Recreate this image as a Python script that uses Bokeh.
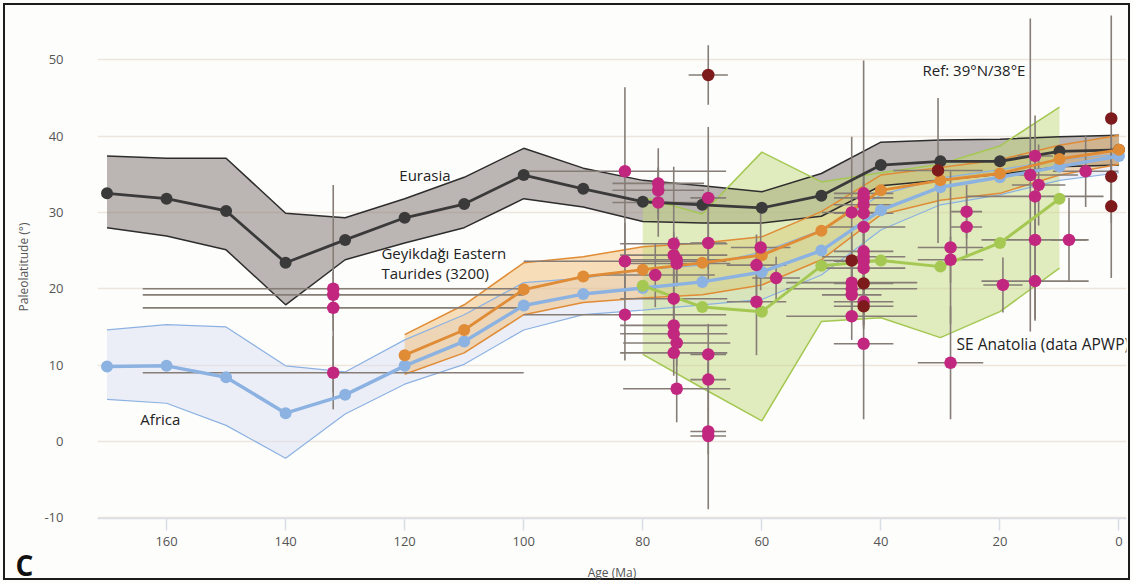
from bokeh.plotting import figure
from bokeh.models import Range1d, Label, FixedTicker, Title, InlineStyleSheet
from bokeh.embed import file_html
from bokeh.resources import INLINE

# ---------------- data ----------------
ages = [170, 160, 150, 140, 130, 120, 110, 100, 90, 80, 70, 60, 50, 40, 30, 20, 10, 0]
eur_lat = [32.5, 31.8, 30.2, 23.4, 26.4, 29.3, 31.1, 34.9, 33.1, 31.4, 31.0, 30.6, 32.2, 36.2, 36.7, 36.7, 38.0, 38.2]
eur_hi = [37.4, 37.1, 37.1, 29.9, 29.3, 31.8, 34.6, 38.4, 35.8, 34.2, 33.5, 32.7, 35.1, 39.2, 39.5, 39.6, 39.9, 40.1]
eur_lo = [28.0, 26.9, 25.1, 17.9, 23.8, 26.0, 28.0, 31.8, 30.7, 28.8, 28.6, 28.6, 29.5, 33.5, 34.2, 35.0, 36.0, 36.2]

afr_lat = [9.8, 9.9, 8.4, 3.7, 6.1, 9.9, 13.1, 17.8, 19.3, 20.1, 20.9, 22.2, 25.0, 30.3, 33.3, 34.6, 36.0, 37.4]
afr_hi = [14.6, 15.3, 15.0, 9.9, 9.1, 13.3, 16.6, 20.8, 21.4, 22.5, 23.1, 24.8, 27.7, 32.3, 34.5, 35.6, 36.9, 37.6]
afr_lo = [5.5, 5.0, 2.1, -2.2, 3.6, 7.5, 10.1, 14.6, 16.6, 17.2, 17.9, 18.6, 21.8, 27.7, 31.0, 32.3, 34.2, 35.2]

tau_age = [120, 110, 100, 90, 80, 70, 60, 50, 40, 30, 20, 10, 0]
tau_lat = [11.3, 14.6, 19.9, 21.6, 22.5, 23.4, 24.4, 27.6, 32.9, 34.2, 35.1, 37.0, 38.2]
tau_hi = [14.0, 17.9, 23.4, 24.2, 25.5, 26.0, 26.8, 30.1, 34.9, 35.9, 36.9, 38.8, 40.1]
tau_lo = [8.8, 11.6, 16.6, 18.2, 18.8, 19.2, 20.5, 23.8, 29.7, 31.6, 32.5, 34.9, 36.3]

sea_age = [80, 70, 60, 50, 40, 30, 20, 10]
sea_lat = [20.4, 17.6, 17.0, 23.0, 23.7, 22.9, 26.0, 31.8]
sea_hi = [32.0, 29.8, 37.9, 34.0, 35.2, 36.3, 38.7, 43.8]
sea_lo = [11.4, 7.0, 2.7, 15.7, 16.2, 13.6, 17.0, 22.7]

# individual paleomagnetic data (magenta)
pt_age = [132, 132, 132, 132,
          83, 83, 83,
          77.4, 77.4, 77.4, 77.9,
          74.8, 74.8, 74.3, 74.3, 74.8, 74.8, 74.8, 74.3, 74.8, 74.3,
          69, 69, 69, 69, 69, 69,
          60.2, 60.9, 60.9, 57.6,
          44.9, 44.9, 44.9, 44.9, 44.9,
          42.9, 42.9, 42.9, 42.9, 42.9, 42.9, 42.9, 42.9, 42.9, 42.9, 42.9,
          28.3, 28.3, 28.3, 25.6, 25.6, 19.5,
          14.9, 14.1, 14.1, 13.5, 14.1, 14.1, 8.4, 5.6]
pt_lat = [20.0, 19.2, 17.5, 9.0,
          35.4, 23.6, 16.6,
          33.8, 32.9, 31.3, 21.8,
          25.9, 24.4, 23.8, 23.3, 18.7, 15.2, 14.1, 12.9, 11.6, 6.9,
          31.9, 26.0, 11.4, 8.1, 1.3, 0.7,
          25.4, 23.1, 18.3, 21.4,
          30.0, 20.8, 20.0, 19.2, 16.4,
          32.5, 31.9, 31.0, 29.9, 28.1, 24.9, 24.2, 23.6, 22.7, 18.3, 12.8,
          25.4, 23.8, 10.3, 30.1, 28.1, 20.5,
          34.9, 37.4, 32.1, 33.6, 26.4, 21.0, 26.4, 35.4]
pt_xerr = [32, 32, 32, 32,
           17, 17, 17,
           7.7, 7.7, 7.7, 10,
           9, 9, 9, 9, 9, 9, 9, 9, 9, 9,
           3, 3, 3, 3, 3, 3,
           5, 5, 5, 4,
           5, 11, 11, 5, 11,
           5, 5, 5, 5, 7, 5, 7, 5, 7, 5, 5,
           5.5, 5.5, 5.5, 2.6, 2.6, 3.3,
           8, 3, 11.5, 4.5, 9, 9, 3, 5.5]
pt_yerr = [13.6, 3, 3, 4.8,
           11, 5, 6,
           4.6, 3, 4.5, 4.2,
           10.1, 3, 3, 3, 3.5, 3, 3, 3, 3, 4.4,
           9.3, 5, 4, 4, 3, 9.6,
           5.6, 4, 7, 2.8,
           9.9, 3, 3, 3, 3.1,
           17.4, 3, 3, 3, 3, 3, 3, 3, 3, 3, 9.9,
           10, 3, 7.4, 3.5, 4, 3.6,
           20.5, 5.3, 5, 5.3, 10.6, 5, 5.5, 4.7]

# dark red data
dr_age = [69, 44.9, 42.9, 42.9, 30.4, 1.3, 1.3, 1.3]
dr_lat = [48.0, 23.7, 20.7, 17.7, 35.5, 42.3, 34.7, 30.8]
dr_xerr = [3.3, 5, 5, 5, 7.5, 0.9, 0.9, 0.9]
dr_yerr = [3.9, 3, 3, 3, 9.5, 13.7, 3, 9.4]

x_ticks = [0, 20, 40, 60, 80, 100, 120, 140, 160]
y_ticks = [-10, 0, 10, 20, 30, 40, 50]

# ---------------- colors ----------------
C_EUR = "#3b3a3a"
C_AFR = "#8cb2e2"
C_TAU = "#e08b35"
C_SEA = "#a5c853"
C_MAG = "#c2277f"
C_DR = "#7c1a1c"
C_ERR = "#857d76"
FONT = "Open Sans"

frame_css = InlineStyleSheet(css=":host { outline: 2.5px solid #1c1c1c; outline-offset: -5px; background: #fdfdfc; }")

p = figure(width=1133, height=583, output_backend="svg", toolbar_location=None,
           x_range=Range1d(171.6, -1.26), y_range=Range1d(-10.1, 55.8),
           min_border_left=97, min_border_right=7, min_border_top=15, min_border_bottom=64,
           background_fill_color="#fdfdfc", border_fill_color=None,
           stylesheets=[frame_css])
p.outline_line_color = None

# panel letter as a bottom title
p.add_layout(Title(text="C", align="left", vertical_align="top", offset=-82, standoff=-76,
                   text_font=FONT, text_font_size="28px", text_font_style="bold",
                   text_color="#111111"), "below")

# grid
p.xgrid.grid_line_color = None
p.ygrid.grid_line_color = "#eee5dc"
p.ygrid.grid_line_width = 1.5
p.ygrid.ticker = FixedTicker(ticks=y_ticks)

# axes
p.xaxis.ticker = FixedTicker(ticks=x_ticks)
p.yaxis.ticker = FixedTicker(ticks=y_ticks)
p.yaxis.major_label_overrides = {-10: "-10"}
p.xaxis.axis_line_color = "#d9dde6"
p.xaxis.axis_line_width = 1.5
p.xaxis.major_tick_line_color = "#d9dde6"
p.xaxis.major_tick_line_width = 1.5
p.xaxis.major_tick_out = 12
p.xaxis.major_tick_in = 0
p.xaxis.minor_tick_line_color = None
p.xaxis.major_label_standoff = 6
p.yaxis.axis_line_color = None
p.yaxis.major_tick_line_color = None
p.yaxis.minor_tick_line_color = None
p.yaxis.major_label_standoff = 28
for ax in (p.xaxis[0], p.yaxis[0]):
    ax.major_label_text_font = FONT
    ax.major_label_text_font_size = "13px"
    ax.major_label_text_color = "#555555"
    ax.axis_label_text_font = FONT
    ax.axis_label_text_font_size = "12px"
    ax.axis_label_text_font_style = "normal"
    ax.axis_label_text_color = "#555555"
p.xaxis.axis_label = "Age (Ma)"
p.xaxis.axis_label_standoff = 15
p.yaxis.axis_label = "Paleolatitude (°)"
p.yaxis.axis_label_standoff = 9

# bands
p.varea(x=ages, y1=afr_lo, y2=afr_hi, fill_color="#d8dcf2", fill_alpha=0.45)
p.varea(x=ages, y1=eur_lo, y2=eur_hi, fill_color="#857a77", fill_alpha=0.55)
p.varea(x=tau_age, y1=tau_lo, y2=tau_hi, fill_color="#efb25c", fill_alpha=0.42)
p.varea(x=sea_age, y1=sea_lo, y2=sea_hi, fill_color="#c3d97f", fill_alpha=0.5)

# band edges
for y in (afr_hi, afr_lo):
    p.line(ages, y, line_color=C_AFR, line_width=1.2)
for y in (eur_hi, eur_lo):
    p.line(ages, y, line_color="#2e2d2d", line_width=1.5)
for y in (tau_hi, tau_lo):
    p.line(tau_age, y, line_color=C_TAU, line_width=1.5)
for y in (sea_hi, sea_lo):
    p.line(sea_age, y, line_color=C_SEA, line_width=1.5)

# error bars
all_age = pt_age + dr_age
all_lat = pt_lat + dr_lat
all_xe = pt_xerr + dr_xerr
all_ye = pt_yerr + dr_yerr
p.segment(x0=[a - e for a, e in zip(all_age, all_xe)], y0=all_lat,
          x1=[a + e for a, e in zip(all_age, all_xe)], y1=all_lat,
          line_color=C_ERR, line_width=1.6)
p.segment(x0=all_age, y0=[l - e for l, e in zip(all_lat, all_ye)],
          x1=all_age, y1=[l + e for l, e in zip(all_lat, all_ye)],
          line_color=C_ERR, line_width=1.6)

# main paths
p.line(ages, eur_lat, line_color=C_EUR, line_width=2.8)
p.scatter(ages, eur_lat, size=12, fill_color=C_EUR, line_color=None)
p.line(ages, afr_lat, line_color=C_AFR, line_width=3.5)
p.scatter(ages, afr_lat, size=12, fill_color=C_AFR, line_color=None)
p.line(tau_age, tau_lat, line_color=C_TAU, line_width=2.8)
p.scatter(tau_age, tau_lat, size=12, fill_color=C_TAU, line_color=None)
p.line(sea_age, sea_lat, line_color=C_SEA, line_width=3)
p.scatter(sea_age, sea_lat, size=12, fill_color=C_SEA, line_color=None)

# data points
p.scatter(pt_age, pt_lat, size=12.5, fill_color=C_MAG, line_color=None)
p.scatter(dr_age, dr_lat, size=12.5, fill_color=C_DR, line_color=None)

# labels
def add_label(x, y, txt, size="15px"):
    p.add_layout(Label(x=x, y=y, text=txt, text_font=FONT, text_font_size=size,
                       text_color="#222222", text_align="left", text_baseline="middle"))

add_label(120.9, 34.9, "Eurasia")
add_label(123.9, 24.7, "Geyikdağı Eastern")
add_label(123.9, 22.0, "Taurides (3200)")
add_label(164.4, 2.9, "Africa")
add_label(27.3, 12.8, "SE Anatolia (data APWP)", size="15.5px")
add_label(33.0, 48.6, "Ref: 39°N/38°E", size="15px")

open("out.html", "w").write(file_html(p, INLINE))
